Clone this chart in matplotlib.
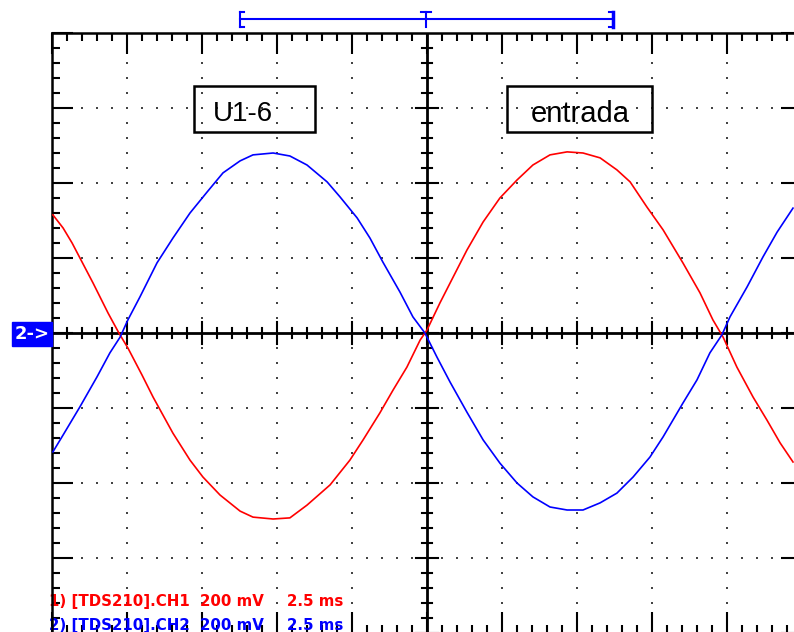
import numpy as np
import matplotlib
matplotlib.use("Agg")
import matplotlib.pyplot as plt
from matplotlib.lines import Line2D
from matplotlib.patches import Rectangle

# CH1 (entrada), tiempo en ms, tension en mV
ch1_t = [-12.47, -12.13, -11.83, -11.13, -10.63, -10.27, -9.97, -9.5, -9.13, -8.47,
         -7.9, -7.47, -6.9, -6.23, -5.8, -5.13, -4.57, -4.0, -3.23, -2.57,
         -2.13, -1.57, -1.13, -0.67, -0.23, 0.0, 0.43, 0.87, 1.33, 1.87,
         2.43, 3.0, 3.53, 4.1, 4.67, 5.2, 5.77, 6.33, 6.77, 7.33,
         7.87, 8.53, 9.1, 9.53, 9.87, 10.33, 10.87, 11.33, 11.77, 12.2]
ch1_v = [315, 280, 240, 133, 53, 0, -40, -112, -171, -267,
         -339, -384, -432, -475, -491, -496, -493, -459, -405, -339,
         -285, -213, -152, -91, -19, 8, 80, 149, 221, 296,
         360, 408, 448, 475, 483, 480, 467, 435, 403, 336,
         275, 187, 107, 35, -11, -91, -171, -232, -293, -344]

# CH2 (U1-6)
ch2_t = [-12.47, -12.13, -11.57, -11.0, -10.57, -10.23, -9.97, -9.57, -9.0, -8.47,
         -7.9, -7.33, -6.8, -6.23, -5.8, -5.13, -4.57, -4.0, -3.33, -2.9,
         -2.33, -1.9, -1.47, -0.9, -0.47, -0.07, 0.33, 0.77, 1.33, 1.87,
         2.43, 3.0, 3.53, 4.1, 4.67, 5.2, 5.77, 6.33, 6.87, 7.43,
         7.87, 8.53, 9.0, 9.43, 9.83, 10.1, 10.67, 11.2, 11.67, 12.2]
ch2_v = [-317, -272, -197, -117, -53, -11, 35, 96, 187, 253,
         320, 376, 427, 459, 475, 480, 472, 448, 403, 363,
         307, 253, 189, 109, 43, 0, -64, -131, -211, -285,
         -347, -400, -437, -464, -472, -472, -453, -427, -384, -331,
         -277, -187, -125, -53, -5, 43, 123, 203, 269, 333]

W, H = 794, 632
fig = plt.figure(figsize=(W / 100, H / 100), dpi=100)
ax = fig.add_axes([52 / W, -1 / H, 750 / W, 600 / H])
ax.set_xlim(-12.5, 12.5)
ax.set_ylim(-800, 800)

def fx(px):
    return px / W

def fy(py):
    return 1 - py / H

# reticula: puntos sobre las divisiones mayores
xmaj = [-10, -7.5, -5, -2.5, 2.5, 5, 7.5, 10]
ymaj = [-600, -400, -200, 200, 400, 600]
ysub = np.arange(-800, 801, 40)
xsub = np.arange(-12.5, 12.51, 0.5)
for x in xmaj:
    ax.plot(np.full(len(ysub), x), ysub, ls='none', marker='s', ms=1.7, mew=0, color='#444444', zorder=1)
for y in ymaj:
    ax.plot(xsub, np.full(len(xsub), y), ls='none', marker='s', ms=1.7, mew=0, color='#444444', zorder=1)

# ejes centrales con marcas
ax.axhline(0, color='k', lw=2, zorder=2)
ax.axvline(0, color='k', lw=2, zorder=2)
for x in xsub:
    h = 29 if abs(x / 2.5 - round(x / 2.5)) < 1e-6 else 14
    ax.plot([x, x], [-h, h], color='k', lw=1.5, zorder=2)
for y in ysub:
    h = 0.37 if y % 200 == 0 else 0.18
    ax.plot([-h, h], [y, y], color='k', lw=1.5, zorder=2)

# marcas del borde
ax.set_xticks(np.arange(-12.5, 12.51, 2.5))
ax.set_xticks(xsub, minor=True)
ax.set_yticks(np.arange(-800, 801, 200))
ax.set_yticks(ysub, minor=True)
ax.tick_params(which='both', direction='in', top=True, right=True,
               labelbottom=False, labelleft=False, color='k', width=1.5)
ax.tick_params(which='major', length=15)
ax.tick_params(which='minor', length=6)
for s in ax.spines.values():
    s.set_linewidth(1.8)

# trazas
ax.plot(ch1_t, ch1_v, color='#ff0000', lw=1.2, zorder=3)
ax.plot(ch2_t, ch2_v, color='#0000ff', lw=1.2, zorder=3)

# etiquetas en recuadro
ax.add_patch(Rectangle((-7.77, 536), 4.04, 123, fill=False, ec='k', lw=1.8, zorder=4))
ax.add_patch(Rectangle((2.67, 536), 4.83, 123, fill=False, ec='k', lw=1.8, zorder=4))
ax.text(-6.13, 584, 'U1-6', ha='center', va='center', fontsize=20, family='Liberation Sans', zorder=4)
ax.text(5.1, 584, 'entrada', ha='center', va='center', fontsize=21, family='Liberation Sans', zorder=4)

# indicador de canal 2
fig.add_artist(Rectangle((fx(12), fy(346)), 40 / W, 24 / H, color='#0000ff', transform=fig.transFigure))
fig.text(fx(32), fy(334), '2->', color='white', ha='center', va='center', fontsize=13, weight='bold')

# ventana de disparo arriba
blue = '#0000ff'
segs = [([240, 613], [19, 19], 1.5),
        ([240, 240], [12, 27], 1.5), ([240, 244], [12, 12], 1.5), ([240, 244], [27, 27], 1.5),
        ([613, 613], [12, 27], 2.5), ([609, 613], [12, 12], 1.5), ([609, 613], [27, 27], 1.5),
        ([426, 426], [12, 27], 1.5), ([421, 431], [12, 12], 1.5)]
for xs, ys, w in segs:
    fig.add_artist(Line2D([fx(v) for v in xs], [fy(v) for v in ys], color=blue, lw=w,
                          transform=fig.transFigure))

# leyenda de canales
for py, col, ch in [(606, '#ff0000', '1) [TDS210].CH1'), (630, '#0000ff', '2) [TDS210].CH2')]:
    ax.text(fx(49), fy(py), ch, color=col, fontsize=10.8, weight='bold', va='baseline',
            transform=fig.transFigure, zorder=2)
    ax.text(fx(200), fy(py), '200 mV', color=col, fontsize=10.8, weight='bold', va='baseline',
            transform=fig.transFigure, zorder=2)
    ax.text(fx(287), fy(py), '2.5 ms', color=col, fontsize=10.8, weight='bold', va='baseline',
            transform=fig.transFigure, zorder=2)

fig.savefig('out.png', dpi=100)
